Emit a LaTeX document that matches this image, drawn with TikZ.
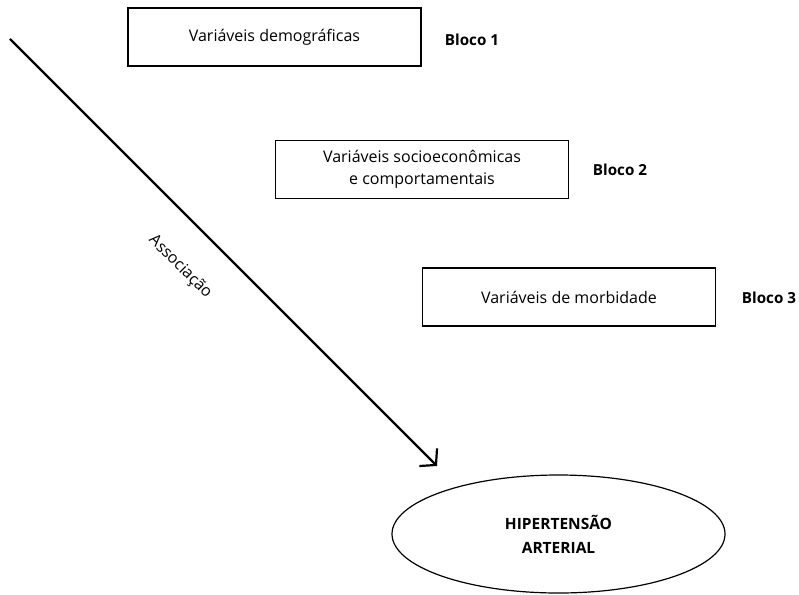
\documentclass[tikz,border=0pt]{standalone}
\usepackage{fontspec}
\setmainfont{Open Sans}
\usetikzlibrary{arrows.meta,shapes.geometric}
\begin{document}
\begin{tikzpicture}[x=1pt,y=-1pt,
  blockbox/.style={draw,line width=1.2pt,minimum width=293pt,minimum height=58pt,align=center,font=\fontsize{16}{22.5}\selectfont,inner sep=0pt},
  blocklabel/.style={font=\fontsize{15.2}{18}\selectfont\bfseries},
  outcome/.style={draw,ellipse,line width=1.2pt,minimum width=333pt,minimum height=118pt,align=center,font=\fontsize{15.5}{24}\selectfont\bfseries,inner sep=0pt}]
\useasboundingbox (0,0) rectangle (799,594);
\node[blockbox] (b1) at (274.5,37) {Variáveis demográficas};
\node[blockbox] (b2) at (422,169.5) {Variáveis socioeconômicas\\e comportamentais};
\node[blockbox] (b3) at (569,297) {Variáveis de morbidade};
\node[blocklabel] (l1) at (472,40) {Bloco 1};
\node[blocklabel] (l2) at (620,170) {Bloco 2};
\node[blocklabel] (l3) at (769,298) {Bloco 3};
\node[outcome] (ha) at (558.5,534) {HIPERTENSÃO\\ARTERIAL};
\coordinate (s) at (10,39);
\coordinate (t) at (437,466);
\draw[line width=2.2pt,-{Straight Barb[length=11pt,width=25pt,line width=2.2pt]}] (s) -- (t);
\node[rotate=-45,font=\fontsize{16}{18}\selectfont,inner sep=0pt] (as) at (180,267) {Associação};
\end{tikzpicture}
\end{document}
